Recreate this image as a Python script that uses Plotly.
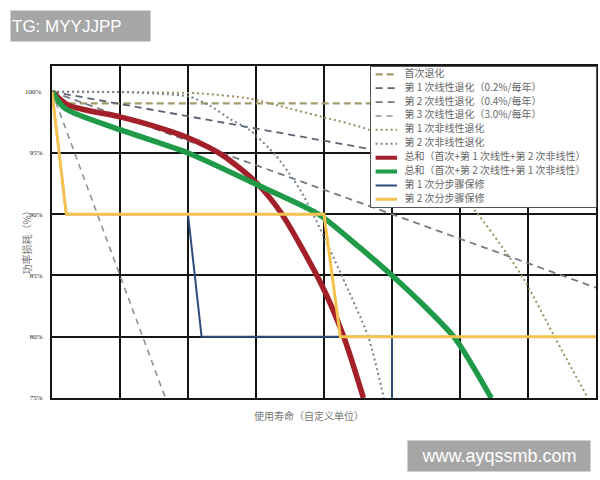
import plotly.graph_objects as go

# ---------------- data ----------------
LEGEND_NAMES = [
    "首次退化",
    "第 1 次线性退化（0.2%/每年）",
    "第 2 次线性退化（0.4%/每年）",
    "第 3 次线性退化（3.0%/每年）",
    "第 1 次非线性退化",
    "第 2 次非线性退化",
    "总和（首次+第 1 次线性+第 2 次非线性）",
    "总和（首次+第 2 次线性+第 1 次非线性）",
    "第 1 次分步骤保修",
    "第 2 次分步骤保修",
]

X_INIT = [0, 0.15, 8]
Y_INIT = [100, 99.05, 99.05]

X_LIN1 = [0, 8]
Y_LIN1 = [100, 92]

X_LIN2 = [0, 8]
Y_LIN2 = [100, 84]

X_LIN3 = [0, 1.667]
Y_LIN3 = [100, 75]

X_NL1 = [0, 1.5, 2.2, 2.9, 3.48, 3.97, 4.66, 5.2, 5.7, 6.22, 6.7, 6.95, 7.39, 7.88]
Y_NL1 = [100, 99.95, 99.85, 99.45, 98.65, 97.95, 96.9, 95.3, 93.3, 90.3, 86.7, 84.6, 80, 75]

X_NL2 = [0, 1.0, 1.7, 2.02, 2.31, 2.61, 2.9, 3.29, 3.48, 3.67, 3.84, 4.26, 4.65, 4.88]
Y_NL2 = [100, 99.97, 99.8, 99.6, 98.9, 97.8, 96.9, 94.8, 93.4, 91.8, 90.0, 85.0, 80.0, 75.0]

X_SUM1 = [0, 0.24, 1, 1.5, 2, 2.5, 3.0, 3.37, 3.95, 4.29, 4.58]
Y_SUM1 = [100, 98.9, 97.95, 97.2, 96.25, 94.85, 92.6, 90.1, 84.4, 80, 75]

X_SUM2 = [0, 0.19, 1, 2, 3, 3.92, 4.51, 5.02, 5.49, 5.93, 6.46]
Y_SUM2 = [100, 98.64, 96.9, 95.0, 92.45, 90, 87.35, 84.9, 82.43, 79.85, 75]

X_WAR1 = [0, 0.21, 2, 2.2, 5, 5]
Y_WAR1 = [100, 90, 90, 80, 80, 75]

X_WAR2 = [0, 0.21, 4, 4.24, 8]
Y_WAR2 = [100, 90, 90, 80, 80]

Y_TICKS = [75, 80, 85, 90, 95]
Y_TICK_TEXT = ["75%", "80%", "85%", "90%", "95%"]
Y_TOP_TICK = 100
Y_TOP_TEXT = "100%"
X_GRID = [1, 2, 3, 4, 5, 6, 7]

# ---------------- styles ----------------
STYLES = [
    dict(color="#a39b6b", width=2.2, dash="7px,4px"),
    dict(color="#5b6470", width=1.8, dash="7px,5px"),
    dict(color="#737b84", width=1.8, dash="7px,5px"),
    dict(color="#8c9298", width=1.6, dash="6px,5px"),
    dict(color="#9a9160", width=2.0, dash="2px,3px"),
    dict(color="#7a828b", width=2.0, dash="2px,3px"),
    dict(color="#a3202a", width=5.5),
    dict(color="#1f9a48", width=5.5),
    dict(color="#2f4b7c", width=2.0),
    dict(color="#f4c24f", width=3.0),
]
SHAPES = ["linear", "linear", "linear", "linear", "spline", "spline",
          "spline", "spline", "linear", "linear"]

SERIES = [
    (X_INIT, Y_INIT), (X_LIN1, Y_LIN1), (X_LIN2, Y_LIN2), (X_LIN3, Y_LIN3),
    (X_NL1, Y_NL1), (X_NL2, Y_NL2), (X_SUM1, Y_SUM1), (X_SUM2, Y_SUM2),
    (X_WAR1, Y_WAR1), (X_WAR2, Y_WAR2),
]

FONT = "Noto Sans CJK SC"
W, H = 600, 480
ML, MR, MT, MB = 52, 2, 66, 82
PW, PH = W - ML - MR, H - MT - MB


def px(xp):
    return (xp - ML) / PW


def py(yp):
    return (H - MB - yp) / PH


fig = go.Figure()

for (xs, ys), name, st, shp in zip(SERIES, LEGEND_NAMES, STYLES, SHAPES):
    fig.add_trace(go.Scatter(
        x=xs, y=ys, mode="lines", name=name, xaxis="x", yaxis="y",
        line=dict(shape=shp, smoothing=0.7 if shp == "spline" else None, **st),
        showlegend=False, hoverinfo="skip",
    ))

# ---------- legend drawn as an inset subplot (covers the plot behind it) ----------
LEG_SAMPLE_X = [0.02, 0.115]
LEG_TEXT_X = 0.148
rows = list(range(len(LEGEND_NAMES)))
for i, st in zip(rows, STYLES):
    sst = dict(st)
    if sst["width"] > 4:
        sst["width"] = 4
    fig.add_trace(go.Scatter(
        x=LEG_SAMPLE_X, y=[i, i], mode="lines", xaxis="x2", yaxis="y2",
        line=sst, showlegend=False, hoverinfo="skip",
    ))
fig.add_trace(go.Scatter(
    x=[LEG_TEXT_X] * len(rows), y=rows, mode="text", text=LEGEND_NAMES,
    textposition="middle right", xaxis="x2", yaxis="y2", cliponaxis=False,
    textfont=dict(family=FONT, size=10, color="#666666"),
    showlegend=False, hoverinfo="skip",
))

YR = [75, 102.1]
TICKFONT = dict(family="Liberation Serif", size=7, color="#222")
fig.update_layout(
    width=W, height=H, autosize=False,
    margin=dict(l=ML, r=MR, t=MT, b=MB),
    paper_bgcolor="white", plot_bgcolor="white",
    font=dict(family=FONT, color="#333"),
    hovermode=False,
    showlegend=False,
    xaxis=dict(range=[0, 8], tickmode="array", tickvals=X_GRID,
               showticklabels=False, ticks="", showgrid=True,
               gridcolor="#151515", gridwidth=1.7, zeroline=False,
               showline=True, mirror=True, linecolor="#151515", linewidth=2),
    yaxis=dict(range=YR, tickmode="array", tickvals=Y_TICKS, ticktext=Y_TICK_TEXT,
               showticklabels=True, ticks="", showgrid=True,
               ticklabelstandoff=6, tickfont=TICKFONT,
               gridcolor="#151515", gridwidth=1.7, zeroline=False,
               showline=True, mirror=True, linecolor="#151515", linewidth=2),
    xaxis2=dict(domain=[px(372.3), 1.0], range=[0, 1], anchor="y2",
                showgrid=False, zeroline=False, showticklabels=False, ticks="",
                showline=True, mirror=True, linecolor="#555", linewidth=1),
    yaxis2=dict(domain=[py(207.3), 0.997], range=[9.576, -0.525], anchor="x2",
                showgrid=False, zeroline=False, showticklabels=False, ticks="",
                showline=True, mirror=True, linecolor="#555", linewidth=1),
    annotations=[
        dict(text=Y_TOP_TEXT, xref="paper", yref="y", x=px(44), y=Y_TOP_TICK,
             xanchor="right", yanchor="middle", showarrow=False, font=TICKFONT),
        dict(text="功率损耗（%）", xref="paper", yref="paper",
             x=px(25.5), y=py(240), xanchor="center", yanchor="middle",
             textangle=-90, showarrow=False,
             font=dict(family=FONT, size=10, color="#777")),
        dict(text="使用寿命（自定义单位）", xref="paper", yref="paper",
             x=px(310), y=py(415), xanchor="center", yanchor="middle",
             showarrow=False,
             font=dict(family=FONT, size=10, color="#777")),
        dict(text="TG: MYYJJPP", xref="paper", yref="paper",
             x=px(10), y=py(10), xanchor="left", yanchor="top",
             width=137, height=28, align="left", bgcolor="#a6a6a6",
             borderpad=1, showarrow=False,
             font=dict(family="Liberation Sans", size=17, color="white")),
        dict(text="www.ayqssmb.com", xref="paper", yref="paper",
             x=px(408), y=py(440), xanchor="left", yanchor="top",
             width=180, height=28, align="center", bgcolor="#a6a6a6",
             borderpad=1, showarrow=False,
             font=dict(family="Liberation Sans", size=18, color="white")),
    ],
)

fig.write_html("out.html", config={"displayModeBar": False},
               post_script="document.body.style.margin='0px';")
